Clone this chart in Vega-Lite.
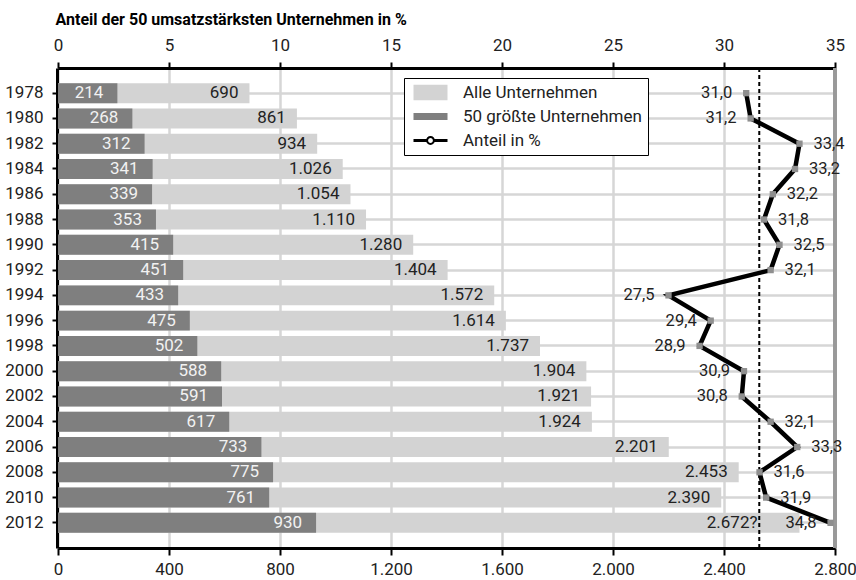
{
  "$schema": "https://vega.github.io/schema/vega-lite/v6.json",
  "width": 777,
  "height": 480,
  "autosize": {"type": "none"},
  "padding": {"left": 58, "top": 68, "right": 21, "bottom": 32},
  "background": "white",
  "config": {
    "font": "Roboto",
    "view": {"stroke": null},
    "locale": {"number": {"decimal": ",", "thousands": ".", "grouping": [3], "currency": ["", " €"]}},
    "axis": {"labelFontSize": 17, "labelColor": "#222", "domainColor": "#000", "domainWidth": 3, "tickColor": "#000", "tickWidth": 2},
    "legend": {
      "orient": "none", "legendX": 346, "legendY": 10, "title": null,
      "fillColor": "white", "strokeColor": "black", "padding": 6,
      "labelFontSize": 17, "labelColor": "#222", "labelFont": "Roboto", "labelLimit": 300,
      "symbolSize": 289, "symbolOffset": 12, "labelOffset": 24, "rowPadding": 6, "symbolStrokeWidth": 0, "symbolOpacity": 1
    }
  },
  "data": {
    "values": [
      {"Jahr": 1978, "Alle": 690, "Top50": 214, "Anteil": 31.0, "Hinweis": ""},
      {"Jahr": 1980, "Alle": 861, "Top50": 268, "Anteil": 31.2, "Hinweis": ""},
      {"Jahr": 1982, "Alle": 934, "Top50": 312, "Anteil": 33.4, "Hinweis": ""},
      {"Jahr": 1984, "Alle": 1026, "Top50": 341, "Anteil": 33.2, "Hinweis": ""},
      {"Jahr": 1986, "Alle": 1054, "Top50": 339, "Anteil": 32.2, "Hinweis": ""},
      {"Jahr": 1988, "Alle": 1110, "Top50": 353, "Anteil": 31.8, "Hinweis": ""},
      {"Jahr": 1990, "Alle": 1280, "Top50": 415, "Anteil": 32.5, "Hinweis": ""},
      {"Jahr": 1992, "Alle": 1404, "Top50": 451, "Anteil": 32.1, "Hinweis": ""},
      {"Jahr": 1994, "Alle": 1572, "Top50": 433, "Anteil": 27.5, "Hinweis": ""},
      {"Jahr": 1996, "Alle": 1614, "Top50": 475, "Anteil": 29.4, "Hinweis": ""},
      {"Jahr": 1998, "Alle": 1737, "Top50": 502, "Anteil": 28.9, "Hinweis": ""},
      {"Jahr": 2000, "Alle": 1904, "Top50": 588, "Anteil": 30.9, "Hinweis": ""},
      {"Jahr": 2002, "Alle": 1921, "Top50": 591, "Anteil": 30.8, "Hinweis": ""},
      {"Jahr": 2004, "Alle": 1924, "Top50": 617, "Anteil": 32.1, "Hinweis": ""},
      {"Jahr": 2006, "Alle": 2201, "Top50": 733, "Anteil": 33.3, "Hinweis": ""},
      {"Jahr": 2008, "Alle": 2453, "Top50": 775, "Anteil": 31.6, "Hinweis": ""},
      {"Jahr": 2010, "Alle": 2390, "Top50": 761, "Anteil": 31.9, "Hinweis": ""},
      {"Jahr": 2012, "Alle": 2672, "Top50": 930, "Anteil": 34.8, "Hinweis": "?"}
    ]
  },
  "layer": [
    {
      "layer": [
        {
          "mark": {"type": "bar"},
          "encoding": {
            "y": {
              "field": "Jahr", "type": "ordinal",
              "scale": {"paddingInner": 0.21, "paddingOuter": 0.6},
              "axis": {"title": null, "offset": 1, "tickSize": 5, "labelPadding": 9, "grid": true, "gridColor": "#d6d6d6", "gridWidth": 2.5}
            },
            "x": {
              "field": "Alle", "type": "quantitative",
              "scale": {"domain": [0, 2800], "nice": false},
              "axis": {
                "orient": "bottom", "title": null,
                "values": [0, 400, 800, 1200, 1600, 2000, 2400, 2800],
                "format": ",d", "tickSize": 7, "labelPadding": 6, "labelFlush": false,
                "grid": true, "gridColor": "#d6d6d6", "gridWidth": 2.5
              }
            },
            "color": {
              "datum": "Alle Unternehmen",
              "scale": {"domain": ["Alle Unternehmen", "50 größte Unternehmen", "Anteil in %"], "range": ["#d3d3d3", "#7f7f7f", "#000000"]},
              "legend": {"title": null}
            }
          }
        },
        {
          "mark": {"type": "bar"},
          "encoding": {
            "y": {"field": "Jahr", "type": "ordinal"},
            "x": {"field": "Top50", "type": "quantitative"},
            "color": {"datum": "50 größte Unternehmen"}
          }
        },
        {
          "mark": {"type": "rule", "color": "#999999", "strokeWidth": 3},
          "encoding": {"x": {"datum": 2800, "type": "quantitative"}}
        },
        {
          "transform": [{"filter": "datum.Hinweis === ''"}],
          "mark": {"type": "text", "align": "right", "baseline": "middle", "dx": -11, "fontSize": 17, "color": "#222"},
          "encoding": {
            "y": {"field": "Jahr", "type": "ordinal"},
            "x": {"field": "Alle", "type": "quantitative"},
            "text": {"field": "Alle", "type": "quantitative", "format": ",d"}
          }
        },
        {
          "transform": [
            {"filter": "datum.Hinweis !== ''"},
            {"calculate": "replace(format(datum.Alle, ',d'), ',', '.') + datum.Hinweis", "as": "Beschriftung"}
          ],
          "mark": {"type": "text", "align": "right", "baseline": "middle", "dx": -42, "fontSize": 17, "color": "#222"},
          "encoding": {
            "y": {"field": "Jahr", "type": "ordinal"},
            "x": {"field": "Alle", "type": "quantitative"},
            "text": {"field": "Beschriftung", "type": "nominal"}
          }
        },
        {
          "mark": {"type": "text", "align": "right", "baseline": "middle", "dx": -14, "fontSize": 17, "color": "#f2f2f2"},
          "encoding": {
            "y": {"field": "Jahr", "type": "ordinal"},
            "x": {"field": "Top50", "type": "quantitative"},
            "text": {"field": "Top50", "type": "quantitative", "format": ",d"}
          }
        }
      ]
    },
    {
      "layer": [
        {
          "mark": {"type": "rule", "color": "#000", "strokeWidth": 2, "strokeDash": [4, 3]},
          "encoding": {
            "x": {
              "aggregate": "mean", "field": "Anteil", "type": "quantitative",
              "scale": {"domain": [0, 35], "nice": false},
              "axis": {
                "orient": "top", "values": [0, 5, 10, 15, 20, 25, 30, 35], "grid": false,
                "tickSize": 6, "labelPadding": 8, "labelFlush": false,
                "title": "Anteil der 50 umsatzstärksten Unternehmen in %",
                "titleFontSize": 16, "titleFontWeight": "bold", "titleColor": "#000", "titleFont": "Roboto",
                "titleAnchor": "start", "titleAlign": "left", "titleBaseline": "alphabetic",
                "titleX": -3, "titleY": -44
              }
            }
          }
        },
        {
          "mark": {"type": "line", "color": "#000", "strokeWidth": 4.5, "strokeJoin": "miter"},
          "encoding": {
            "y": {"field": "Jahr", "type": "ordinal"},
            "x": {"field": "Anteil", "type": "quantitative"}
          }
        },
        {
          "mark": {"type": "point", "shape": "square", "filled": true, "size": 40, "color": "#8f8f8f", "opacity": 1},
          "encoding": {
            "y": {"field": "Jahr", "type": "ordinal"},
            "x": {"field": "Anteil", "type": "quantitative"}
          }
        },
        {
          "transform": [{"filter": "datum.Anteil < 0"}],
          "mark": {"type": "point", "filled": true},
          "encoding": {
            "y": {"field": "Jahr", "type": "ordinal"},
            "x": {"field": "Anteil", "type": "quantitative"},
            "shape": {
              "datum": "Anteil in %",
              "scale": {
                "domain": ["Alle Unternehmen", "50 größte Unternehmen", "Anteil in %"],
                "range": [
                  "M-2,-0.9H2V0.9H-2Z",
                  "M-2,-0.42H2V0.42H-2Z",
                  "M-2,-0.18H-0.46V0.18H-2Z M0.46,-0.18H2V0.18H0.46Z M0.52,0A0.52,0.52,0,1,1,-0.52,0A0.52,0.52,0,1,1,0.52,0Z M0.28,0A0.28,0.28,0,1,0,-0.28,0A0.28,0.28,0,1,0,0.28,0Z"
                ]
              },
              "legend": {"title": null}
            }
          }
        },
        {
          "transform": [{"filter": "datum.Anteil < 31.5 || datum.Anteil > 34.5"}],
          "mark": {"type": "text", "align": "right", "baseline": "middle", "dx": -14, "fontSize": 16.5, "color": "#222"},
          "encoding": {
            "y": {"field": "Jahr", "type": "ordinal"},
            "x": {"field": "Anteil", "type": "quantitative"},
            "text": {"field": "Anteil", "type": "quantitative", "format": ".1f"}
          }
        },
        {
          "transform": [{"filter": "datum.Anteil >= 31.5 && datum.Anteil <= 34.5"}],
          "mark": {"type": "text", "align": "left", "baseline": "middle", "dx": 14, "fontSize": 16.5, "color": "#222"},
          "encoding": {
            "y": {"field": "Jahr", "type": "ordinal"},
            "x": {"field": "Anteil", "type": "quantitative"},
            "text": {"field": "Anteil", "type": "quantitative", "format": ".1f"}
          }
        }
      ]
    }
  ],
  "resolve": {"scale": {"x": "independent"}, "axis": {"x": "independent"}}
}
